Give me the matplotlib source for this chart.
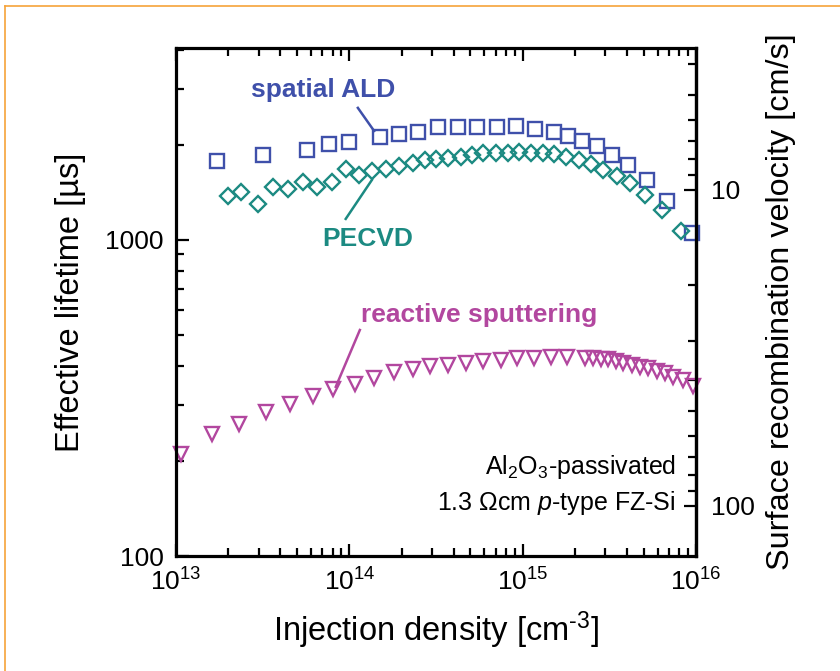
import numpy as np
import matplotlib
matplotlib.use("Agg")
import matplotlib.pyplot as plt
from matplotlib.ticker import FixedLocator, FuncFormatter, LogLocator, NullFormatter, LogFormatterMathtext
from matplotlib.lines import Line2D

plt.rcParams['font.family'] = ['Liberation Sans', 'DejaVu Sans']
plt.rcParams['mathtext.fontset'] = 'custom'
plt.rcParams['mathtext.rm'] = 'Liberation Sans'
plt.rcParams['mathtext.it'] = 'Liberation Sans:italic'
plt.rcParams['mathtext.bf'] = 'Liberation Sans:bold'

# ---- data: injection density [cm^-3] and effective lifetime [us] ----
ald_n = [1.73e13, 3.19e13, 5.67e13, 7.64e13, 9.96e13, 1.50e14, 1.94e14, 2.50e14,
         3.23e14, 4.22e14, 5.48e14, 7.10e14, 9.12e14, 1.18e15, 1.52e15, 1.82e15,
         2.21e15, 2.68e15, 3.27e15, 4.07e15, 5.20e15, 6.78e15, 9.47e15]
ald_tau = [1778, 1854, 1928, 2009, 2038, 2114, 2161, 2197, 2271, 2273, 2273, 2273,
           2297, 2249, 2193, 2134, 2062, 1982, 1857, 1726, 1549, 1331, 1055]

pecvd_n = [2.00e13, 2.36e13, 2.96e13, 3.64e13, 4.44e13, 5.43e13, 6.49e13, 7.98e13,
           9.57e13, 1.14e14, 1.36e14, 1.63e14, 1.94e14, 2.32e14, 2.74e14, 3.18e14,
           3.72e14, 4.40e14, 5.09e14, 5.93e14, 7.02e14, 8.20e14, 9.57e14, 1.12e15,
           1.31e15, 1.52e15, 1.78e15, 2.10e15, 2.48e15, 2.92e15, 3.49e15, 4.17e15,
           5.08e15, 6.40e15, 8.17e15]
pecvd_tau = [1380, 1422, 1300, 1469, 1446, 1529, 1476, 1524, 1675, 1606, 1653, 1677,
             1714, 1749, 1792, 1798, 1811, 1835, 1858, 1881, 1881, 1888, 1903, 1888,
             1881, 1867, 1828, 1792, 1740, 1665, 1594, 1510, 1387, 1245, 1069]

sput_n = [1.07e13, 1.62e13, 2.32e13, 3.30e13, 4.55e13, 6.15e13, 8.09e13, 1.08e14,
          1.39e14, 1.80e14, 2.32e14, 2.92e14, 3.72e14, 4.71e14, 5.93e14, 7.48e14,
          9.31e14, 1.16e15, 1.45e15, 1.80e15, 2.29e15, 2.56e15, 2.83e15, 3.12e15,
          3.44e15, 3.81e15, 4.26e15, 4.75e15, 5.31e15, 5.94e15, 6.64e15, 7.41e15,
          8.46e15, 9.66e15]
sput_tau = [210, 244, 262, 285, 303, 321, 337, 349, 367, 381, 391, 399, 402, 407,
            415, 417, 424, 424, 427, 427, 424, 422, 420, 419, 414, 407, 402, 397,
            393, 385, 378, 369, 360, 344]

x_ticks = [1e13, 1e14, 1e15, 1e16]
y_ticks = [100, 1000]
s_ticks = [10, 100]
# S_eff = W / (2 tau), W ~ 288 um  ->  S[cm/s] = 14400 / tau[us]
S_FACTOR = 14400.0

c_ald = '#3F50AA'
c_pecvd = '#1C8A82'
c_sput = '#B2479F'

fig = plt.figure(figsize=(8.4, 6.71), dpi=100)
fig.patch.set_facecolor('white')
ax = fig.add_axes([176/840, 1-556/671, 520/840, 508/671])

ax.set_xscale('log')
ax.set_yscale('log')
ax.set_xlim(1e13, 1e16)
ax.set_ylim(100, 4050)

ax.plot(ald_n, ald_tau, ls='none', marker='s', ms=10, mfc='none', mec=c_ald, mew=1.7, clip_on=False)
ax.plot(pecvd_n, pecvd_tau, ls='none', marker='D', ms=8.5, mfc='none', mec=c_pecvd, mew=1.7, clip_on=False)
ax.plot(sput_n, sput_tau, ls='none', marker='v', ms=10.5, mfc='none', mec=c_sput, mew=1.7, clip_on=False)

# axes styling
for sp in ax.spines.values():
    sp.set_linewidth(2.3)
ax.xaxis.set_major_locator(FixedLocator(x_ticks))
ax.xaxis.set_major_formatter(LogFormatterMathtext())
ax.xaxis.set_minor_locator(LogLocator(base=10, subs=np.arange(2, 10)))
ax.xaxis.set_minor_formatter(NullFormatter())
ax.yaxis.set_major_locator(FixedLocator(y_ticks))
ax.yaxis.set_major_formatter(FuncFormatter(lambda v, p: '%d' % v))
ax.yaxis.set_minor_locator(LogLocator(base=10, subs=np.arange(2, 10)))
ax.yaxis.set_minor_formatter(NullFormatter())
ax.tick_params(which='both', direction='in', top=True, right=False, width=1.6)
ax.tick_params(which='major', length=9, labelsize=19, pad=9)
ax.tick_params(which='minor', length=5.5)

fwd = lambda t: S_FACTOR / np.asarray(t, dtype=float)
sec = ax.secondary_yaxis('right', functions=(fwd, fwd))
sec.spines['right'].set_linewidth(2.3)
sec.yaxis.set_major_locator(FixedLocator(s_ticks))
sec.yaxis.set_major_formatter(FuncFormatter(lambda v, p: '%d' % v))
sec.yaxis.set_minor_locator(LogLocator(base=10, subs=np.arange(2, 10)))
sec.yaxis.set_minor_formatter(NullFormatter())
sec.tick_params(which='both', direction='in', width=1.6)
sec.tick_params(which='major', length=9, labelsize=19, pad=11)
sec.tick_params(which='minor', length=5.5)
sec.set_ylabel('Surface recombination velocity [cm/s]', fontsize=23.3, labelpad=8)

ax.set_xlabel('Injection density [cm$^{\\text{-}3}$]', fontsize=23.5, labelpad=10)
ax.set_ylabel('Effective lifetime [µs]', fontsize=23.5, labelpad=14)

# annotations
ax.text(7.05e13, 2986, 'spatial ALD', color=c_ald, fontsize=19, fontweight='bold', ha='center', va='center')
ax.plot([1.12e14, 1.39e14], [2618, 2213], color=c_ald, lw=1.8)
ax.text(1.28e14, 1008, 'PECVD', color=c_pecvd, fontsize=19, fontweight='bold', ha='center', va='center')
ax.plot([9.53e13, 1.35e14], [1166, 1549], color=c_pecvd, lw=1.8)
ax.text(5.6e14, 579, 'reactive sputtering', color=c_sput, fontsize=19, fontweight='bold', ha='center', va='center')
ax.plot([1.15e14, 8.35e13], [519, 343], color=c_sput, lw=1.8)

ax.text(0.9615, 0.175, 'Al$_2$O$_3$-passivated', transform=ax.transAxes, fontsize=18, ha='right', va='center')
ax.text(0.9615, 0.104, '1.3 Ωcm $\\mathit{p}$-type FZ-Si', transform=ax.transAxes, fontsize=18, ha='right', va='center')

# orange frame
fc = '#F6A33A'
fig.add_artist(Line2D([5/840, 1.0], [1-6/671, 1-6/671], transform=fig.transFigure, color=fc, lw=1.2))
fig.add_artist(Line2D([5/840, 5/840], [0.0, 1-6/671], transform=fig.transFigure, color=fc, lw=1.2))

fig.savefig('out.png', dpi=100)
